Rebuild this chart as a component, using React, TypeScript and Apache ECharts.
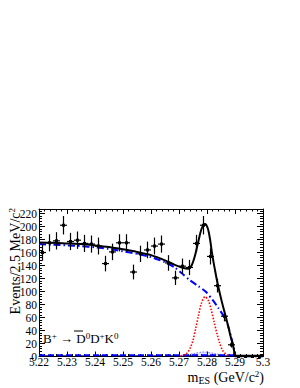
import React, { useEffect, useRef } from "react";
import * as echarts from "echarts";

// ---- data ----
const binLow = 5.22;
const binWidth = 0.0025;
const counts = [160, 175, 178, 202, 177, 179, 174, 173, 170, 143, 161, 175, 175, 130, 158, 164, 170, 173, 144, 121, 139, 137, 174, 202, 154, 109, 62, 18, 0, 0, 0, 0];
const errors = [12.6, 13.2, 13.3, 14.2, 13.3, 13.4, 13.2, 13.2, 13, 12, 12.7, 13.2, 13.2, 11.4, 12.6, 12.8, 13, 13.2, 12, 11, 11.8, 11.7, 13.2, 14.2, 12.4, 10.4, 7.9, 4.2, 1.1, 1.1, 1.1, 1.1];

// total fit (black solid)
const totMass = [5.22, 5.225, 5.23, 5.235, 5.24, 5.245, 5.25, 5.255, 5.26, 5.265, 5.2685, 5.271, 5.2733, 5.2745, 5.2757, 5.2769, 5.2781, 5.2793, 5.2803, 5.2811, 5.2819, 5.2829, 5.2838, 5.2852, 5.2864, 5.2876, 5.2886, 5.2893, 5.2897, 5.2899, 5.2905, 5.3];
const totVals = [175.5, 175, 174, 173, 171, 168.5, 165, 161, 156, 148, 141, 137, 135, 140, 155, 177, 197, 204, 197, 180, 156, 132, 112, 86, 66, 46, 28, 17, 8, 1, 1, 1];

// background (blue dash-dot)
const bgMass = [5.22, 5.225, 5.23, 5.235, 5.24, 5.245, 5.25, 5.255, 5.26, 5.265, 5.2685, 5.271, 5.274, 5.277, 5.2795, 5.282, 5.284, 5.2864, 5.2876, 5.2888, 5.2897, 5.29, 5.3];
const bgVals = [173, 172, 171, 170, 168, 165.5, 162, 158, 153, 145, 137, 128, 117, 108, 100, 87, 75, 59, 46, 27, 11, 0, 0];

// signal (red dotted)
const sigMass = [5.2705, 5.272, 5.273, 5.274, 5.275, 5.276, 5.277, 5.278, 5.2793, 5.2805, 5.2815, 5.2825, 5.2835, 5.2845, 5.2855, 5.2868, 5.288];
const sigVals = [1, 3, 6, 13, 25, 44, 64, 82, 92, 86, 72, 54, 36, 21, 10, 3.5, 1];

// peaking component (light blue)
const peakMass = [5.271, 5.274, 5.277, 5.279, 5.281, 5.284, 5.2865];
const peakVals = [1.5, 3.5, 6, 7, 6, 3.5, 1.5];

// flat small components near zero
const flatMass = [5.22, 5.29];
const flatBlue = [2, 2];
const flatBlack = [1, 1];

const xMin = 5.22;
const xMax = 5.3;
const yMin = 0;
const yMax = 227;

const FONT = "Liberation Serif";

function pairs(xs: number[], ys: number[]) {
  return xs.map((x, i) => [x, ys[i]]);
}

export default function App() {
  const ref = useRef<HTMLDivElement>(null);

  useEffect(() => {
    if (!ref.current) return;
    const chart = echarts.init(ref.current, undefined, { renderer: "svg" });

    const points = counts.map((c, i) => [binLow + binWidth * (i + 0.5), c, errors[i]]);

    const xBase = {
      type: "value",
      min: xMin,
      max: xMax,
      interval: 0.01,
      splitLine: { show: false },
      axisLine: { show: true, onZero: false, lineStyle: { color: "#000", width: 1 } },
      axisTick: { show: true, inside: true, length: 5, lineStyle: { color: "#000", width: 1 } },
      minorTick: { show: true, splitNumber: 5, length: 2.5, lineStyle: { color: "#000", width: 1 } },
    };
    const yMajor = {
      type: "value",
      min: yMin,
      max: yMax,
      interval: 20,
      splitLine: { show: false },
      axisLine: { show: true, onZero: false, lineStyle: { color: "#000", width: 1 } },
      axisTick: { show: true, inside: true, length: 6, lineStyle: { color: "#000", width: 1 } },
    };
    const yMinor = {
      type: "value",
      min: yMin,
      max: yMax,
      interval: 4,
      splitLine: { show: false },
      axisLine: { show: false },
      axisLabel: { show: false },
      axisTick: { show: true, inside: true, length: 3, lineStyle: { color: "#000", width: 1 } },
    };

    const option: any = {
      animation: false,
      backgroundColor: "#fff",
      grid: { left: 39, right: 37, top: 209, bottom: 31.5, containLabel: false },
      xAxis: [
        {
          ...xBase,
          position: "bottom",
          axisLabel: {
            show: true,
            margin: 2,
            color: "#000",
            fontFamily: FONT,
            fontSize: 11.5,
            lineHeight: 7,
            showMinLabel: true,
            showMaxLabel: true,
            formatter: (v: number) => String(+v.toFixed(2)),
          },
        },
        { ...xBase, position: "top", axisLabel: { show: false } },
      ],
      yAxis: [
        {
          ...yMajor,
          position: "left",
          axisLabel: {
            show: true,
            margin: 2,
            color: "#000",
            fontFamily: FONT,
            fontSize: 11.5,
            lineHeight: 6,
            showMaxLabel: false,
            formatter: (v: number) => (Math.abs(v % 20) < 1e-6 ? String(v) : ""),
          },
        },
        { ...yMinor, position: "left" },
        { ...yMajor, position: "right", axisLabel: { show: false } },
        { ...yMinor, position: "right" },
      ],
      series: [
        {
          type: "line",
          data: pairs(peakMass, peakVals),
          smooth: 0.4,
          showSymbol: false,
          lineStyle: { color: "#7a7aff", width: 1, type: [1.5, 1.5] },
          areaStyle: { color: "rgba(120,120,255,0.35)" },
          z: 2,
        },
        {
          type: "line",
          data: pairs(flatMass, flatBlack),
          showSymbol: false,
          lineStyle: { color: "#000", width: 1, type: [3, 3] },
          z: 2,
        },
        {
          type: "line",
          data: pairs(flatMass, flatBlue),
          showSymbol: false,
          lineStyle: { color: "#0000ff", width: 2, type: [6, 3] },
          z: 3,
        },
        {
          type: "line",
          data: pairs(bgMass, bgVals),
          smooth: 0.25,
          showSymbol: false,
          lineStyle: { color: "#0000ff", width: 2, type: [7, 3, 1.5, 3] },
          z: 3,
        },
        {
          type: "line",
          data: pairs(sigMass, sigVals),
          smooth: 0.3,
          showSymbol: false,
          lineStyle: { color: "#ff0000", width: 1.6, type: [1.5, 1.6] },
          z: 3,
        },
        {
          type: "custom",
          data: points,
          clip: false,
          z: 4,
          renderItem: (params: any, api: any) => {
            const x = api.value(0);
            const y = api.value(1);
            const e = api.value(2);
            const c = api.coord([x, y]);
            const lo = api.coord([x, Math.max(0, y - e)]);
            const hi = api.coord([x, y + e]);
            const l = api.coord([x - binWidth / 2, y]);
            const r = api.coord([x + binWidth / 2, y]);
            const st = { stroke: "#000", lineWidth: 1.2 };
            return {
              type: "group",
              children: [
                { type: "line", shape: { x1: c[0], y1: lo[1], x2: c[0], y2: hi[1] }, style: st },
                { type: "line", shape: { x1: l[0], y1: c[1], x2: r[0], y2: c[1] }, style: st },
                { type: "rect", shape: { x: c[0] - 1.5, y: c[1] - 1.5, width: 3, height: 3 }, style: { fill: "#000" } },
              ],
            };
          },
        },
        {
          type: "line",
          data: pairs(totMass, totVals),
          smooth: 0.3,
          showSymbol: false,
          lineStyle: { color: "#000", width: 2 },
          z: 5,
        },
      ],
      graphic: [
        {
          type: "text",
          x: 15,
          y: 208,
          rotation: Math.PI / 2,
          style: {
            text: "{a|Events/2.5 MeV/c}{s|2}",
            align: "right",
            verticalAlign: "middle",
            fill: "#000",
            rich: {
              a: { fontSize: 14, fontFamily: FONT, lineHeight: 16, fill: "#000" },
              s: { fontSize: 9, fontFamily: FONT, lineHeight: 6, verticalAlign: "top", fill: "#000" },
            },
          },
        },
        {
          type: "text",
          x: 264,
          y: 377.5,
          style: {
            text: "{a|m}{b|ES}{a| (GeV/c}{s|2}{a|)}",
            align: "right",
            verticalAlign: "middle",
            fill: "#000",
            rich: {
              a: { fontSize: 14, fontFamily: FONT, lineHeight: 16, fill: "#000" },
              b: { fontSize: 10, fontFamily: FONT, lineHeight: 6, verticalAlign: "bottom", fill: "#000" },
              s: { fontSize: 9, fontFamily: FONT, lineHeight: 6, verticalAlign: "top", fill: "#000" },
            },
          },
        },
        {
          type: "text",
          x: 43,
          y: 338.5,
          style: {
            text: "{a|B}{s|+}{a| → D}{s|0}{a|D}{s|+}{a|K}{s|0}",
            align: "left",
            verticalAlign: "middle",
            fill: "#000",
            rich: {
              a: { fontSize: 13, fontFamily: FONT, lineHeight: 14, fill: "#000" },
              s: { fontSize: 9, fontFamily: FONT, lineHeight: 5, verticalAlign: "top", fill: "#000" },
            },
          },
        },
        {
          type: "line",
          shape: { x1: 74, y1: 331, x2: 83, y2: 331 },
          style: { stroke: "#000", lineWidth: 1 },
        },
      ],
    };

    chart.setOption(option);
    return () => chart.dispose();
  }, []);

  return <div ref={ref} style={{ position: "fixed", left: 0, top: 0, width: 300, height: 388 }} />;
}
